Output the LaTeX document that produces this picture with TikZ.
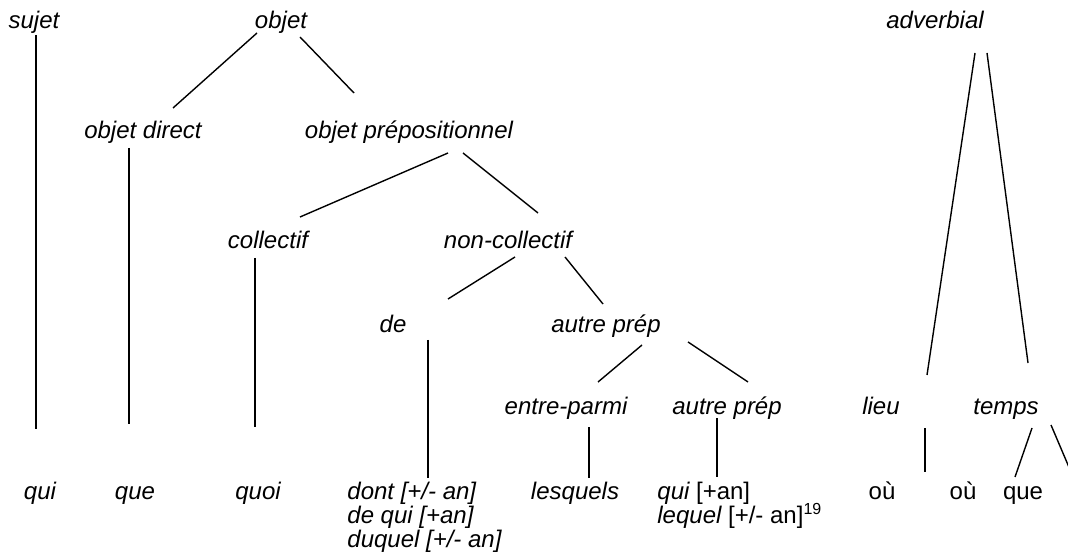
\documentclass[tikz,border=0pt]{standalone}
\usepackage{fontspec}
\setmainfont{Liberation Sans}
\begin{document}
\begin{tikzpicture}[x=0.5pt,y=-0.5pt,
  lbl/.style={anchor=base, inner sep=0pt, font=\fontsize{12}{14}\selectfont\itshape},
  lbll/.style={anchor=base west, inner sep=0pt, font=\fontsize{12}{14}\selectfont\itshape},
  lblu/.style={anchor=base, inner sep=0pt, font=\fontsize{12}{14}\selectfont},
  ln/.style={line width=0.7pt}]
\useasboundingbox (0,0) rectangle (1068,560);
% labels
\node[lbl] (sujet) at (34,29) {sujet};
\node[lbl] (objet) at (281,29) {objet};
\node[lbl] (adverbial) at (935,29) {adverbial};
\node[lbl] (odirect) at (143,139) {objet direct};
\node[lbl] (oprep) at (409,139) {objet prépositionnel};
\node[lbl] (collectif) at (268,249) {collectif};
\node[lbl] (noncoll) at (508,249) {non-collectif};
\node[lbl] (de) at (393,333) {de};
\node[lbl] (autreA) at (606,333) {autre prép};
\node[lbl] (entre) at (566,414) {entre-parmi};
\node[lbl] (autreB) at (727,414) {autre prép};
\node[lbl] (lieu) at (881,414) {lieu};
\node[lbl] (temps) at (1006,414) {temps};
\node[lbl] (qui) at (40,499) {qui};
\node[lbl] (que) at (135,499) {que};
\node[lbl] (quoi) at (258,499) {quoi};
\node[lbll] (dont) at (347,499) {dont [+/- an]};
\node[lbll] (dequi) at (347,523) {de qui [+an]};
\node[lbll] (duquel) at (347,547) {duquel [+/- an]};
\node[lbl] (lesquels) at (575,499) {lesquels};
\node[lbll] (quian) at (657,499) {qui \upshape[+an]};
\node[lbll] (lequel) at (657,523) {lequel \upshape[+/- an]\textsuperscript{19}};
\node[lblu] (ou1) at (882,499) {où};
\node[lblu] (ou2) at (963,499) {où};
\node[lblu] (queT) at (1023,499) {que};
% line end points
\coordinate (s1) at (36,35);    \coordinate (s2) at (36,429);
\coordinate (o1) at (257,33);   \coordinate (o2) at (173,108);
\coordinate (o3) at (300,37);   \coordinate (o4) at (354,93);
\coordinate (d1) at (129,148);  \coordinate (d2) at (129,424);
\coordinate (p1) at (448,153);  \coordinate (p2) at (300,217);
\coordinate (p3) at (463,153);  \coordinate (p4) at (538,213);
\coordinate (c1) at (255,258);  \coordinate (c2) at (255,427);
\coordinate (n1) at (515,257);  \coordinate (n2) at (448,299);
\coordinate (n3) at (565,257);  \coordinate (n4) at (603,304);
\coordinate (e1) at (428,340);  \coordinate (e2) at (428,478);
\coordinate (a1) at (642,345);  \coordinate (a2) at (598,382);
\coordinate (a3) at (688,342);  \coordinate (a4) at (748,382);
\coordinate (m1) at (589,427);  \coordinate (m2) at (589,478);
\coordinate (b1) at (717,418);  \coordinate (b2) at (717,477);
\coordinate (v1) at (975,53);   \coordinate (v2) at (927,375);
\coordinate (v3) at (987,53);   \coordinate (v4) at (1028,363);
\coordinate (l1) at (925,428);  \coordinate (l2) at (925,472);
\coordinate (t1) at (1032,428); \coordinate (t2) at (1015,477);
\coordinate (t3) at (1051,425); \coordinate (t4) at (1071,472);
% connectors
\draw[ln] (s1) -- (s2);
\draw[ln] (o1) -- (o2);
\draw[ln] (o3) -- (o4);
\draw[ln] (d1) -- (d2);
\draw[ln] (p1) -- (p2);
\draw[ln] (p3) -- (p4);
\draw[ln] (c1) -- (c2);
\draw[ln] (n1) -- (n2);
\draw[ln] (n3) -- (n4);
\draw[ln] (e1) -- (e2);
\draw[ln] (a1) -- (a2);
\draw[ln] (a3) -- (a4);
\draw[ln] (m1) -- (m2);
\draw[ln] (b1) -- (b2);
\draw[ln] (v1) -- (v2);
\draw[ln] (v3) -- (v4);
\draw[ln] (l1) -- (l2);
\draw[ln] (t1) -- (t2);
\draw[ln] (t3) -- (t4);
\end{tikzpicture}
\end{document}
